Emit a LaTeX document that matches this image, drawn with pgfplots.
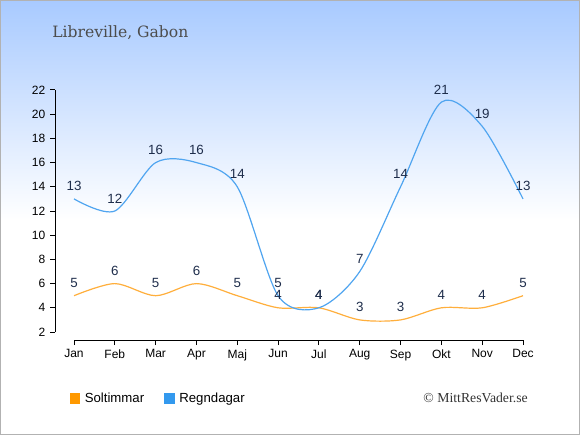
\documentclass[border=0pt]{standalone}
\usepackage{pgfplots}
\pgfplotsset{compat=1.18}
\usepackage{fontspec}
\setmainfont{Liberation Sans}
\newfontfamily\seriffont{DejaVu Serif}
\newfontfamily\timesfont{Liberation Serif}
\definecolor{bgblue}{RGB}{168,202,255}
\definecolor{sol}{RGB}{255,153,0}
\definecolor{solline}{RGB}{255,175,60}
\definecolor{regn}{RGB}{51,153,238}
\definecolor{regnline}{RGB}{80,165,240}
\definecolor{lab}{RGB}{30,45,75}
\begin{document}
\begin{tikzpicture}
\begin{scope}[x=0.75pt,y=0.75pt]
\fill[white] (0,0) rectangle (580,435);
\shade[top color=bgblue, bottom color=white] (0,435) rectangle (580,215);
\draw[black!30, line width=0.75pt] (0.5,0.5) rectangle (579.5,434.5);
\node[anchor=base west, text=black!70, font=\seriffont\fontsize{11.7}{14}\selectfont, inner sep=0pt] at (52,397) {Libreville, Gabon};
\node[anchor=east, text=black!80, font=\timesfont\fontsize{10.3}{12}\selectfont, inner sep=0pt] at (528,37) {© MittResVader.se};
\end{scope}
\begin{axis}[
  at={(41.25pt,71.25pt)}, anchor=south west,
  scale only axis, width=351pt, height=187.5pt,
  xmin=-0.4655, xmax=11, ymin=1.339, ymax=22,
  axis line style={draw=none},
  xtick={0,...,11},
  xticklabels={Jan,Feb,Mar,Apr,Maj,Jun,Jul,Aug,Sep,Okt,Nov,Dec},
  ytick={2,4,...,22},
  xtick pos=lower, ytick pos=left,
  tick align=outside,
  major tick length=3.75pt,
  tick style={black, line width=0.75pt},
  tick label style={font=\fontsize{9}{10}\selectfont, text=black},
  /pgf/number format/assume math mode=true,
  clip=false,
  nodes near coords,
  every node near coord/.append style={font=\fontsize{10}{11}\selectfont, text=lab, anchor=south, inner sep=0pt, yshift=5.5pt},
  legend columns=2,
  legend style={draw=none, fill=none, at={(0.022,-0.234)}, anchor=west,
    font=\fontsize{9.9}{11}\selectfont,
    /tikz/every odd column/.append style={column sep=2pt},
    /tikz/every even column/.append style={column sep=13pt}},
  legend image code/.code={\fill[#1] (0pt,-3.9pt) rectangle (7pt,3.9pt);},
]
\draw[black, line width=0.75pt] (axis cs:0,1.339) -- (axis cs:11,1.339);
\draw[black, line width=0.75pt] (axis cs:-0.4655,2) -- (axis cs:-0.4655,22);
\addplot[solline, line width=0.9pt, smooth, forget plot] coordinates {
(0,5) (1,6) (2,5) (3,6) (4,5) (5,4) (6,4) (7,3) (8,3) (9,4) (10,4) (11,5)};
\addplot[regnline, line width=0.9pt, smooth, forget plot] coordinates {
(0,13) (1,12) (2,16) (3,16) (4,14) (5,5) (6,4) (7,7) (8,14) (9,21) (10,19) (11,13)};
\addlegendimage{sol}
\addlegendentry{Soltimmar}
\addlegendimage{regn}
\addlegendentry{Regndagar}
\end{axis}
\end{tikzpicture}
\end{document}
